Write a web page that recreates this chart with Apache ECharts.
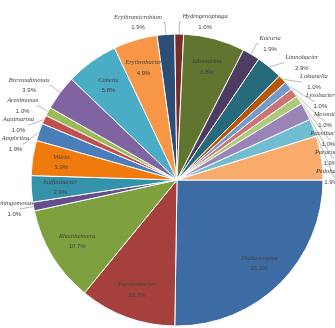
<!DOCTYPE html>
<html>
<head>
<meta charset="utf-8">
<script src="https://cdn.jsdelivr.net/npm/echarts@6/dist/echarts.min.js"></script>
<style>
html,body{margin:0;padding:0;background:#fff;}
#chart{width:335px;height:328px;}
</style>
</head>
<body>
<div id="chart"></div>
<script>
// genera, clockwise from 3 o'clock
var genera = ['Thalassospira','Psychrobacter','Rheinheimera','Sphingomonas','Sulfitobacter','Vibrio',
    'Amphritea','Aquimarina','Arenimonas','Brevundimonas','Cobetia','Erythrobacter','Erythromicrobium',
    'Hydrogenophaga','Idiomarina','Kocuria','Limnobacter','Loktanella','Lysobacter','Mesonia',
    'Paenibacillus','Paracoccus','Pedobacter','Pseudoalteromonas'];
// isolate counts (total 103)
var counts = [26, 11, 11, 1, 3, 4, 2, 1, 1, 4, 6, 5, 2, 1, 7, 2, 3, 1, 1, 1, 1, 2, 2, 5];
var colors = ['#3d6ca4','#a5403d','#7fa03e','#654e8c','#3592ab','#f07b0c','#4a7ebb','#c0504d',
    '#9bbb59','#8064a2','#4bacc6','#f79646','#2c4d75','#772c2a','#5f7530','#4d3b62','#276a7c',
    '#b65708','#729aca','#cd7371','#afc97a','#9983b7','#6fbdd1','#f9ab6b'];
// which slices carry their label inside
var insideLabel = ['Thalassospira','Psychrobacter','Rheinheimera','Sulfitobacter','Vibrio',
    'Cobetia','Erythrobacter','Idiomarina','Pseudoalteromonas'];

var total = counts.reduce(function(a, b){ return a + b; }, 0);

var myChart = echarts.init(document.getElementById('chart'));

function rich(al){
    return {
        n: {fontFamily: 'Liberation Serif', fontStyle: 'italic', fontSize: 6.5, color: '#404040', lineHeight: 10.5, align: al},
        v: {fontFamily: 'Liberation Sans', fontSize: 6, color: '#404040', lineHeight: 10.5, align: al}
    };
}
function fmt(p){
    return '{n|' + p.name + '}\n{v|' + (p.value / total * 100).toFixed(1) + '%}';
}

var mainData = [], labelData = [];
for (var i = 0; i < genera.length; i++) {
    var inside = insideLabel.indexOf(genera[i]) >= 0;
    mainData.push({
        value: counts[i], name: genera[i],
        itemStyle: {color: colors[i]},
        label: {show: !inside},
        labelLine: {show: !inside}
    });
    labelData.push({
        value: counts[i], name: genera[i],
        label: {show: inside}
    });
}

var option = {
    backgroundColor: '#fff',
    animation: false,
    series: [
        {
            type: 'pie',
            center: [177, 180],
            radius: [0, 146],
            startAngle: 0,
            clockwise: true,
            avoidLabelOverlap: true,
            itemStyle: {borderColor: '#fff', borderWidth: 1},
            label: {
                position: 'outside',
                formatter: fmt,
                rich: rich('center'),
                overflow: 'none',
                distanceToLabelLine: 1
            },
            labelLine: {
                length: 12,
                length2: 2,
                lineStyle: {color: '#a6a6a6', width: 0.8}
            },
            data: mainData
        },
        {
            type: 'pie',
            silent: true,
            z: 5,
            center: [177, 180],
            radius: [82, 146],
            startAngle: 0,
            clockwise: true,
            itemStyle: {color: 'rgba(0,0,0,0)'},
            label: {
                position: 'inside',
                formatter: fmt,
                rich: rich('center'),
                align: 'center'
            },
            labelLine: {show: false},
            data: labelData
        }
    ]
};

myChart.setOption(option);
</script>
</body>
</html>
